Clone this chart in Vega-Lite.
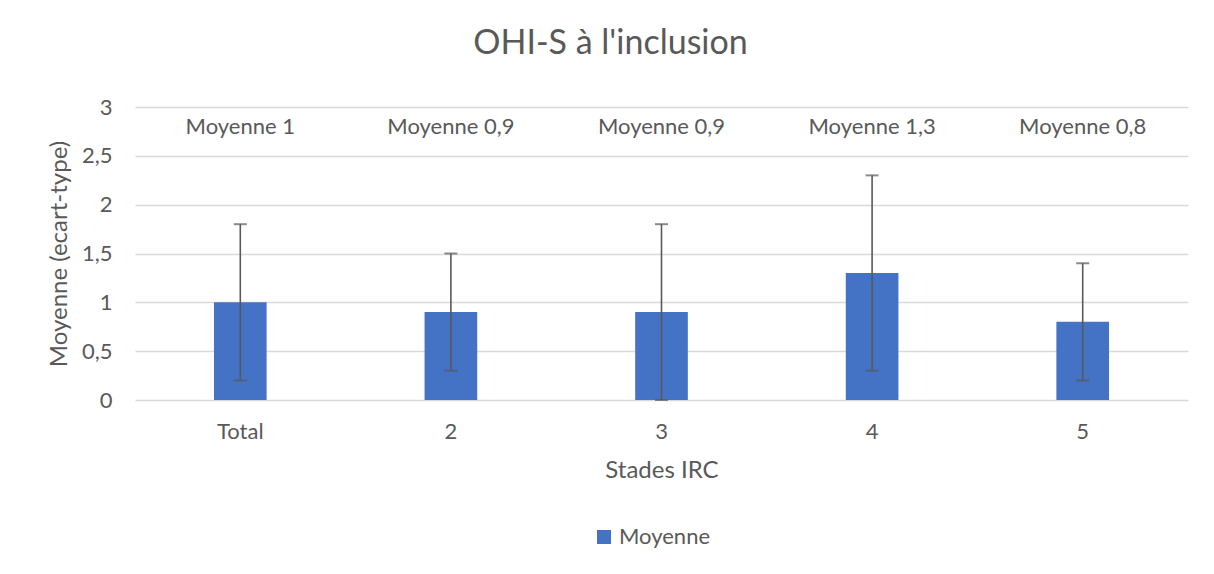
{
  "$schema": "https://vega.github.io/schema/vega-lite/v6.json",
  "width": 1053,
  "height": 293,
  "autosize": {"type": "none"},
  "padding": {"left": 135, "top": 107, "right": 26, "bottom": 174},
  "background": "white",
  "title": {
    "text": "OHI-S à l'inclusion",
    "fontSize": 34,
    "font": "Lato",
    "fontWeight": "normal",
    "color": "#595959",
    "anchor": "middle",
    "dx": -51,
    "offset": 35
  },
  "config": {
    "locale": {"number": {"decimal": ",", "thousands": " ", "grouping": [3], "currency": ["", " €"]}},
    "view": {"stroke": null},
    "font": "Lato",
    "axis": {
      "labelColor": "#595959",
      "titleColor": "#595959",
      "labelFont": "Lato",
      "titleFont": "Lato",
      "titleFontWeight": "normal",
      "labelFontSize": 22,
      "titleFontSize": 24
    }
  },
  "data": {
    "values": [
      {"stade": "Total", "moyenne": 1.0, "bas": 0.2, "haut": 1.8, "etiquette": "Moyenne 1", "serie": "Moyenne"},
      {"stade": "2", "moyenne": 0.9, "bas": 0.3, "haut": 1.5, "etiquette": "Moyenne 0,9", "serie": "Moyenne"},
      {"stade": "3", "moyenne": 0.9, "bas": 0.0, "haut": 1.8, "etiquette": "Moyenne 0,9", "serie": "Moyenne"},
      {"stade": "4", "moyenne": 1.3, "bas": 0.3, "haut": 2.3, "etiquette": "Moyenne 1,3", "serie": "Moyenne"},
      {"stade": "5", "moyenne": 0.8, "bas": 0.2, "haut": 1.4, "etiquette": "Moyenne 0,8", "serie": "Moyenne"}
    ]
  },
  "encoding": {
    "x": {
      "field": "stade",
      "type": "nominal",
      "sort": null,
      "scale": {"paddingInner": 0.75, "paddingOuter": 0.375},
      "axis": {
        "title": "Stades IRC",
        "labelAngle": 0,
        "domain": false,
        "ticks": false,
        "labelPadding": 21,
        "titlePadding": 16
      }
    }
  },
  "layer": [
    {
      "mark": {"type": "bar"},
      "encoding": {
        "y": {
          "field": "moyenne",
          "type": "quantitative",
          "scale": {"domain": [0, 3], "nice": false},
          "axis": {
            "title": "Moyenne (ecart-type)",
            "values": [0, 0.5, 1, 1.5, 2, 2.5, 3],
            "format": "~r",
            "domain": false,
            "ticks": false,
            "labelPadding": 23,
            "titlePadding": 10,
            "grid": true,
            "gridColor": "#d9d9d9",
            "gridWidth": 1.5
          }
        },
        "color": {
          "field": "serie",
          "type": "nominal",
          "scale": {"range": ["#4472c4"]},
          "legend": {
            "title": null,
            "orient": "none",
            "legendX": 458,
            "legendY": 419,
            "symbolType": "square",
            "symbolSize": 196,
            "symbolStrokeWidth": 0,
            "labelFontSize": 22,
            "labelColor": "#595959",
            "labelFont": "Lato",
            "labelOffset": 4
          }
        }
      }
    },
    {
      "mark": {"type": "rule", "color": "#595959", "strokeWidth": 1.6},
      "encoding": {
        "y": {"field": "bas", "type": "quantitative"},
        "y2": {"field": "haut"}
      }
    },
    {
      "mark": {"type": "tick", "color": "#595959", "thickness": 2, "size": 13, "orient": "horizontal"},
      "encoding": {"y": {"field": "bas", "type": "quantitative"}}
    },
    {
      "mark": {"type": "tick", "color": "#595959", "thickness": 2, "size": 13, "orient": "horizontal"},
      "encoding": {"y": {"field": "haut", "type": "quantitative"}}
    },
    {
      "mark": {"type": "text", "fontSize": 22, "color": "#595959", "font": "Lato", "baseline": "middle"},
      "encoding": {
        "y": {"datum": 2.8},
        "text": {"field": "etiquette", "type": "nominal"}
      }
    }
  ]
}
